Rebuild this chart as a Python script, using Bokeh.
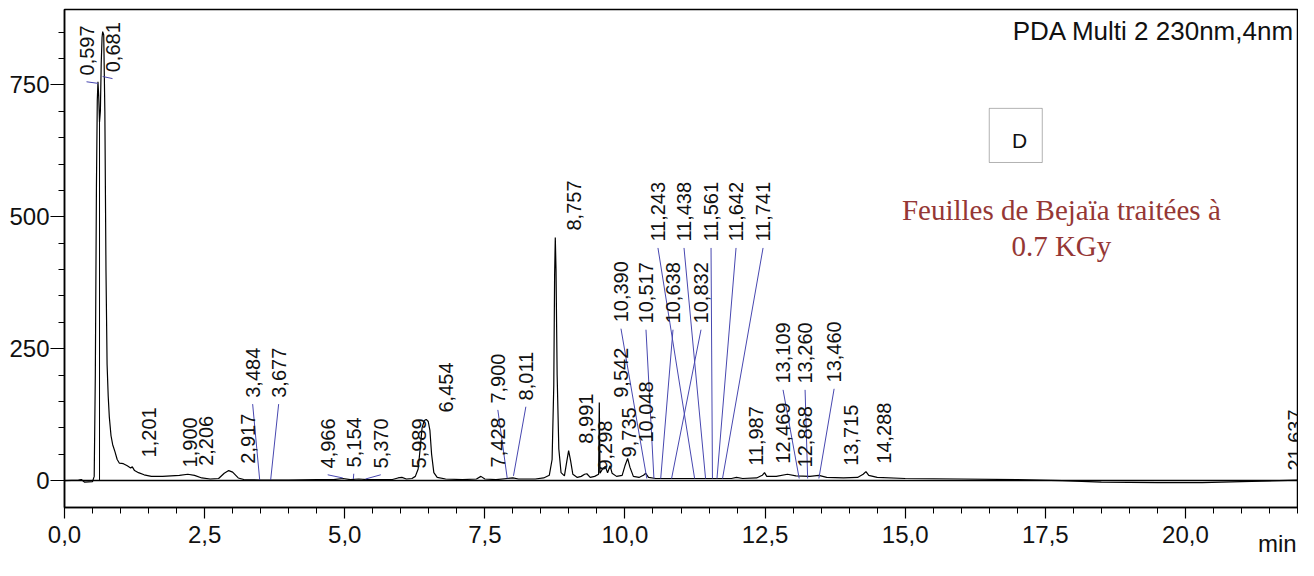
import math
from bokeh.plotting import figure
from bokeh.models import (Range1d, FixedTicker, Span, Label, BoxAnnotation, ColumnDataSource,
                          LinearAxis)
from bokeh.core.properties import value
from bokeh.embed import file_html
from bokeh.resources import INLINE

# ---------------- data ----------------
trace_t = [0.00, 0.25, 0.30, 0.36, 0.50, 0.53, 0.55, 0.57, 0.585, 0.597, 0.61, 0.625, 0.64, 0.655,
           0.67, 0.681, 0.70, 0.72, 0.74, 0.76, 0.78, 0.80, 0.83, 0.86, 0.90, 0.94, 0.98, 1.05,
           1.12, 1.18, 1.21, 1.25, 1.32, 1.42, 1.55, 1.75, 1.90, 2.05, 2.20, 2.32, 2.45, 2.60,
           2.75, 2.85, 2.93, 3.00, 3.10, 3.20, 3.50, 4.00, 4.50, 4.80, 4.97, 5.10, 5.25, 5.40,
           5.60, 5.85, 5.95, 6.02, 6.10, 6.20, 6.26, 6.31, 6.35, 6.38, 6.42, 6.454, 6.49, 6.52,
           6.55, 6.59, 6.65, 6.80, 7.10, 7.35, 7.43, 7.50, 7.70, 7.90, 8.00, 8.10, 8.40, 8.55,
           8.65, 8.70, 8.73, 8.745, 8.757, 8.77, 8.79, 8.82, 8.86, 8.92, 8.96, 8.995, 9.03, 9.07,
           9.15, 9.22, 9.28, 9.32, 9.38, 9.46, 9.53, 9.542, 9.555, 9.60, 9.65, 9.69, 9.735, 9.77,
           9.85, 9.95, 10.00, 10.048, 10.09, 10.15, 10.25, 10.33, 10.37, 10.42, 10.55, 10.80,
           11.20, 11.60, 11.90, 11.99, 12.10, 12.35, 12.45, 12.49, 12.53, 12.70, 12.90, 13.05,
           13.30, 13.46, 13.60, 13.90, 14.15, 14.25, 14.30, 14.35, 14.50, 15.00, 16.00, 17.00,
           17.80, 18.50, 19.50, 20.30, 21.00, 22.00]
trace_v = [0, 1, 2, -3, -2, 8, 200, 560, 720, 756, 730, 680, 700, 790,
           840, 851, 845, 700, 400, 220, 160, 120, 85, 68, 55, 40, 33, 32,
           28, 24, 26, 19, 15, 11, 8, 8, 9, 10, 12, 10, 5, 3,
           4, 14, 19, 16, 5, 2, 1, 1, 2, 2, 4, 2, 3, 2,
           2, 2, 5, 6, 3, 4, 8, 22, 65, 100, 114, 116, 112, 95,
           50, 15, 6, 3, 2, 3, 8, 3, 2, 4, 5, 3, 3, 5,
           10, 40, 180, 390, 461, 400, 200, 60, 15, 9, 35, 57, 38, 12,
           6, 8, 12, 13, 6, 8, 12, 148, 14, 22, 27, 15, 28, 14,
           8, 10, 28, 42, 25, 8, 6, 10, 14, 6, 4, 4,
           4, 4, 4, 6, 4, 5, 10, 15, 8, 8, 12, 9,
           8, 10, 6, 5, 6, 12, 17, 10, 6, 4, 3, 2,
           0, -3, -4, -4, -2, 1]

# peak valley drop line
drop_t = [0.625]
drop_v = [680]

# retention times of the labelled peaks
peak_rt = [0.597, 0.681, 1.201, 1.900, 2.206, 2.917, 3.484, 3.677, 4.966, 5.154, 5.370,
           5.989, 6.454, 7.428, 7.900, 8.011, 8.757, 8.991, 9.298, 9.542, 9.735, 10.048,
           10.390, 10.517, 10.638, 10.832, 11.243, 11.438, 11.561, 11.642, 11.741, 11.987,
           12.469, 12.868, 13.109, 13.260, 13.460, 13.715, 14.288, 21.637]
# signal where a leader line meets the peak (None = label without leader)
leader_end = [753, 766, None, None, None, None, 0, 0, 5, 3, 3,
              None, None, None, 4, 9, None, None, None, None, None, None,
              4, 4, 4, 4, 4, 4, 4, 4, 4, None,
              None, None, 4, 4, 4, None, None, None]

x_ticks = [0.0, 2.5, 5.0, 7.5, 10.0, 12.5, 15.0, 17.5, 20.0]
x_tick_labels = ["0,0", "2,5", "5,0", "7,5", "10,0", "12,5", "15,0", "17,5", "20,0"]
y_ticks = [0, 250, 500, 750]
y_tick_labels = ["0", "250", "500", "750"]
x_unit = "min"

# ---------------- layout of the peak labels ----------------
label_x = [0.393, 0.857, 1.500, 2.232, 2.518, 3.268, 3.357, 3.821, 4.696, 5.161, 5.643,
           6.321, 6.804, 7.732, 7.732, 8.232, 9.089, 9.304, 9.643, 9.929, 10.071, 10.375,
           9.929, 10.375, 10.857, 11.357, 10.589, 11.054, 11.536, 11.982, 12.464, 12.339,
           12.821, 13.214, 12.821, 13.214, 13.732, 14.036, 14.625, 21.964]
label_y = [768, 774, 44, 25, 28, 32, 157, 157, 23, 25, 23,
           23, 129, 25, 146, 152, 474, 70, 19, 157, 44, 72,
           300, 298, 298, 298, 453, 453, 453, 453, 453, 28,
           32, 25, 184, 184, 186, 28, 32, 19]
leader_gap = 12
unit_pos = 21.64

labels = [f"{rt:.3f}".replace(".", ",") for rt in peak_rt]

lx0, ly0, lx1, ly1 = [], [], [], []
for rt, lx, ly, le in zip(peak_rt, label_x, label_y, leader_end):
    if le is not None:
        lx0.append(lx); ly0.append(ly - leader_gap); lx1.append(rt); ly1.append(le)

FONT = "Liberation Sans"

p = figure(width=1298, height=560, x_range=Range1d(0, 22.0), y_range=Range1d(-51, 893),
           output_backend="svg", toolbar_location=None,
           min_border_left=64, min_border_right=1, min_border_top=9, min_border_bottom=53)
p.grid.visible = False
p.background_fill_color = "white"
p.border_fill_color = "white"
p.outline_line_color = "black"
p.outline_line_width = 1.5

# axes
p.xaxis.ticker = FixedTicker(ticks=x_ticks, minor_ticks=[i * 0.5 for i in range(0, 45)])
p.xaxis.major_label_overrides = {t: s for t, s in zip(x_ticks, x_tick_labels)}
p.yaxis.ticker = FixedTicker(ticks=y_ticks, minor_ticks=[i * 50 for i in range(0, 18)])
p.yaxis.major_label_overrides = {t: s for t, s in zip(y_ticks, y_tick_labels)}
for ax in (p.xaxis, p.yaxis):
    ax.axis_line_color = "black"
    ax.axis_line_width = 1.5
    ax.major_tick_line_color = "black"
    ax.minor_tick_line_color = "black"
    ax.major_tick_line_width = 1.2
    ax.minor_tick_line_width = 1
    ax.major_tick_in = 0
    ax.minor_tick_in = 0
    ax.major_label_text_font = FONT
    ax.major_label_text_font_size = "24px"
    ax.major_label_text_color = "#111111"
p.xaxis.major_tick_out = 11
p.xaxis.minor_tick_out = 6
p.xaxis.major_label_standoff = 7
p.yaxis.major_tick_out = 14
p.yaxis.minor_tick_out = 6
p.yaxis.major_label_standoff = 1

# unit of the x axis, as a bare second axis (only its one label is visible)
unit_axis = LinearAxis(ticker=FixedTicker(ticks=[unit_pos], minor_ticks=[]),
                       major_label_overrides={unit_pos: x_unit},
                       axis_line_color=None, major_tick_line_color=None,
                       minor_tick_line_color=None, major_tick_out=0, major_tick_in=0,
                       minor_tick_out=0, minor_tick_in=0, major_label_standoff=-16,
                       major_label_text_font=FONT, major_label_text_font_size="24px",
                       major_label_text_color="#111111")
p.add_layout(unit_axis, "below")

# zero line
p.add_layout(Span(location=0, dimension="width", line_color="black", line_width=1.5))

# chromatogram
p.line(trace_t, trace_v, line_color="black", line_width=1.2)
p.segment(x0=drop_t, y0=[0] * len(drop_t), x1=drop_t, y1=drop_v, line_color="black", line_width=1)

# leader lines
p.segment(x0=lx0, y0=ly0, x1=lx1, y1=ly1, line_color="#4747B0", line_width=1)

# peak labels
src = ColumnDataSource(dict(x=label_x, y=label_y, text=labels))
p.text(x="x", y="y", text="text", source=src, angle=math.pi / 2,
       text_align="left", text_baseline="middle",
       text_font=value(FONT), text_font_size=value("20px"), text_color="#111111")

# annotations
p.add_layout(Label(x=22.0, y=852, x_offset=-3, text="PDA Multi 2 230nm,4nm",
                   text_align="right", text_baseline="alphabetic",
                   text_font=FONT, text_font_size="26px", text_color="#111111"))
p.add_layout(BoxAnnotation(left=16.5, right=17.446, bottom=603, top=705.6,
                           fill_color=None, fill_alpha=0, line_color="black", line_width=1))
p.add_layout(Label(x=17.04, y=645, text="D", text_align="center", text_baseline="middle",
                   text_font=FONT, text_font_size="21px", text_color="#111111"))
p.add_layout(Label(x=17.786, y=512, text="Feuilles de Bejaïa traitées à",
                   text_align="center", text_baseline="alphabetic",
                   text_font="Liberation Serif", text_font_size="29px", text_color="#953735"))
p.add_layout(Label(x=17.786, y=444, text="0.7 KGy",
                   text_align="center", text_baseline="alphabetic",
                   text_font="Liberation Serif", text_font_size="29px", text_color="#953735"))

open("out.html", "w").write(file_html(p, INLINE))
